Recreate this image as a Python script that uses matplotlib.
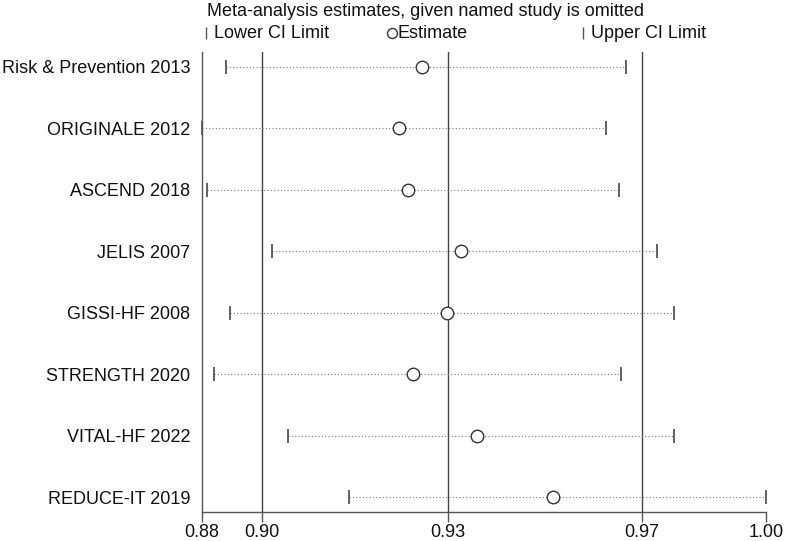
import matplotlib.pyplot as plt
from matplotlib.lines import Line2D

plt.rcParams['font.family'] = ['Liberation Sans', 'DejaVu Sans']

# Study omitted, estimate and CI limits with that study left out
studies = ['Risk & Prevention 2013', 'ORIGINALE 2012', 'ASCEND 2018', 'JELIS 2007',
           'GISSI-HF 2008', 'STRENGTH 2020', 'VITAL-HF 2022', 'REDUCE-IT 2019']
lower = [0.8897, 0.8849, 0.8859, 0.8989, 0.8906, 0.8874, 0.9022, 0.9144]
estimate = [0.9289, 0.9244, 0.9261, 0.9367, 0.9339, 0.9272, 0.9400, 0.9552]
upper = [0.9697, 0.9658, 0.9683, 0.9759, 0.9794, 0.9688, 0.9794, 0.9978]

# Overall pooled estimate and CI (vertical reference lines)
overall_lower = 0.8970
overall_est = 0.9342
overall_upper = 0.9730

FS = 13

fig = plt.figure(figsize=(7.9, 5.41), dpi=100)
ax = fig.add_axes([201.7 / 790, 1 - 512.3 / 541, (766 - 201.7) / 790, (512.3 - 51.7) / 541])

xmin, xmax = min(lower), max(upper)
ypos = list(range(1, len(studies) + 1))

for v in (overall_lower, overall_est, overall_upper):
    ax.axvline(v, color='#444444', lw=1.0, zorder=1)

for y, lo, est, hi in zip(ypos, lower, estimate, upper):
    ax.plot([lo, hi], [y, y], ls=(0, (1, 2.0)), color='#777777', lw=0.8, zorder=2)
    ax.plot([lo, hi], [y, y], ls='none', marker='|', ms=9.5, mew=1.3,
            color='#555555', zorder=3, clip_on=False)
    ax.plot([est], [y], ls='none', marker='o', ms=9, mfc='white', mec='#333333',
            mew=1.0, zorder=4)

ax.set_xlim(xmin, xmax)
ax.set_ylim(len(studies) + 0.244, 1 - 0.244)

ticks = [xmin, overall_lower, overall_est, overall_upper, xmax]
ax.set_xticks(ticks)
ax.set_xticklabels([f'{t:.2f}' for t in ticks])
ax.set_yticks(ypos)
ax.set_yticklabels(studies)

for s in ('top', 'right'):
    ax.spines[s].set_visible(False)
for s in ('left', 'bottom'):
    ax.spines[s].set_color('#555555')
    ax.spines[s].set_linewidth(1.0)

ax.tick_params(axis='x', length=7, width=1.0, color='#555555', labelsize=FS, pad=1.5,
               labelcolor='#111111')
ax.tick_params(axis='y', length=0, labelsize=FS, pad=8.4, labelcolor='#111111')

# Title and legend across the top
fig.text(207 / 790, 1 - 11.5 / 541, 'Meta-analysis estimates, given named study is omitted',
         ha='left', va='center', fontsize=FS, color='#111111')

ly = 1 - 33 / 541
fig.add_artist(Line2D([206 / 790], [ly], marker='|', ms=8, mew=1.0, color='#555555', ls='none'))
fig.text(214 / 790, ly, 'Lower CI Limit', ha='left', va='center', fontsize=FS, color='#111111')
fig.add_artist(Line2D([391.5 / 790], [ly], marker='o', ms=7.2, mfc='white', mec='#333333',
                      mew=1.0, ls='none'))
fig.text(397.5 / 790, ly, 'Estimate', ha='left', va='center', fontsize=FS, color='#111111')
fig.add_artist(Line2D([583.3 / 790], [ly], marker='|', ms=8, mew=1.0, color='#555555', ls='none'))
fig.text(591 / 790, ly, 'Upper CI Limit', ha='left', va='center', fontsize=FS, color='#111111')

fig.savefig('out.png', dpi=100)
